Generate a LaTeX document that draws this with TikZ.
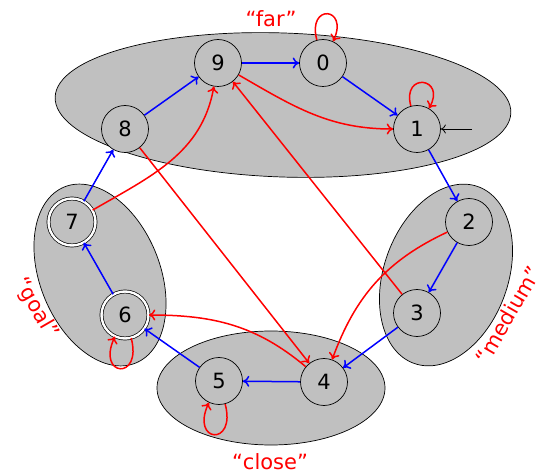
\documentclass[tikz,border=0pt]{standalone}
\usepackage{fontspec}
\setmainfont{DejaVu Sans}
\usetikzlibrary{arrows.meta}
\definecolor{gfill}{RGB}{192,192,192}
\begin{document}
\begin{tikzpicture}[x=1pt,y=1pt,
  state/.style={circle,draw,fill=gfill,minimum size=47pt,inner sep=0pt,line width=0.7pt,font=\fontsize{21}{25}\selectfont},
  accept/.style={state,double,double distance=2.4pt},
  region/.style={draw,fill=gfill,line width=0.7pt},
  lab/.style={red,font=\fontsize{21}{25}\selectfont,inner sep=0pt},
  barrow/.style={blue,line width=1.5pt,-{To[length=6.5pt,width=11pt]}},
  rarrow/.style={red,line width=1.5pt,-{To[length=6.5pt,width=11pt]}},
  karrow/.style={black,line width=0.8pt,-{To[length=5pt,width=9pt]}}]
\useasboundingbox (0,0) rectangle (542,475);
% regions
\draw[region, rotate around={-2:(283,370)}] (283,370) ellipse (228pt and 72pt);
\draw[region, rotate around={22:(100,200)}] (100,200) ellipse (60pt and 95pt);
\draw[region, rotate around={-20:(446,200)}] (446,200) ellipse (62pt and 94pt);
\draw[region] (271,87) ellipse (114pt and 57pt);
% states
\node[state] (n9) at (218,412) {9};
\node[state] (n0) at (323,412) {0};
\node[state] (n1) at (417,346) {1};
\node[state] (n8) at (125,346) {8};
\node[state] (n2) at (469,253) {2};
\node[state] (n3) at (417,162) {3};
\node[state] (n4) at (324,93) {4};
\node[state] (n5) at (219,94) {5};
\node[accept] (n6) at (125,160) {6};
\node[accept] (n7) at (72,253) {7};
% labels
\node[lab] (lfar) at (271,456) {“far”};
\node[lab] (lclose) at (270,13) {“close”};
\node[lab,rotate=-60] (lgoal) at (36,167) {“goal”};
\node[lab,rotate=60] (lmed) at (508,160) {“medium”};
% blue transitions
\draw[barrow] (n9) -- (n0);
\draw[barrow] (n0) -- (n1);
\draw[barrow] (n1) -- (n2);
\draw[barrow] (n2) -- (n3);
\draw[barrow] (n3) -- (n4);
\draw[barrow] (n4) -- (n5);
\draw[barrow] (n5) -- (n6);
\draw[barrow] (n6) -- (n7);
\draw[barrow] (n7) -- (n8);
\draw[barrow] (n8) -- (n9);
% red transitions
\draw[rarrow] (n9) to[out=-30,in=180] (n1);
\draw[rarrow] (n7) to[out=30,in=-100] (n9);
\draw[rarrow] (n8) -- (n4);
\draw[rarrow] (n3) -- (n9);
\draw[rarrow] (n2) to[out=205,in=70] (n4);
\draw[rarrow] (n4) to[out=140,in=0] (n6);
\draw[rarrow] (n0) to[out=105,in=65,looseness=6] (n0);
\draw[rarrow] (n1) to[out=105,in=60,looseness=5] (n1);
\draw[rarrow] (n6) to[out=-75,in=-115,looseness=7] (n6);
\draw[rarrow] (n5) to[out=-75,in=-115,looseness=7] (n5);
% initial
\coordinate (b1) at (472,346);
\draw[karrow] (b1) -- (n1);
\end{tikzpicture}
\end{document}
